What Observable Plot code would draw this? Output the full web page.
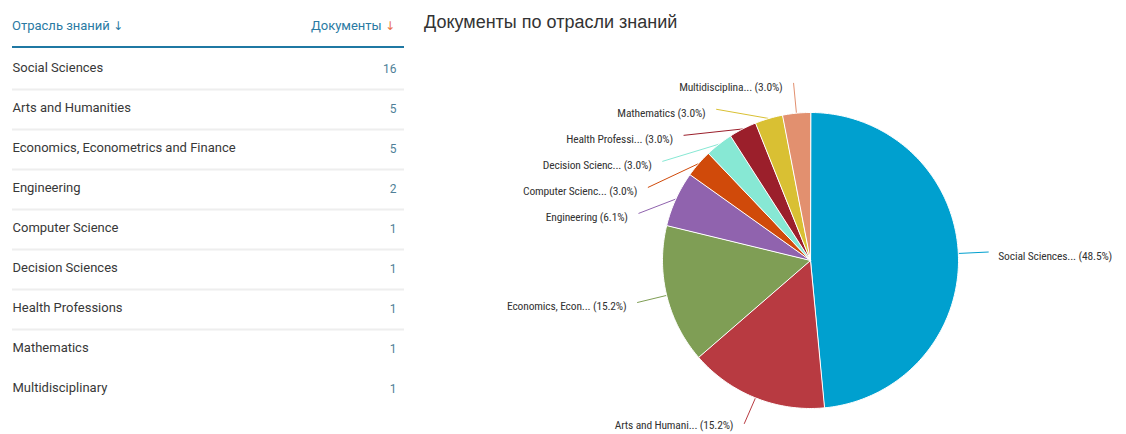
<!DOCTYPE html>
<html><head><meta charset="utf-8">
<script src="https://cdn.jsdelivr.net/npm/d3@7"></script>
<script src="https://cdn.jsdelivr.net/npm/@observablehq/plot@0.6"></script>
<style>
body{margin:0;background:#fff;font-family:Roboto,"Open Sans",sans-serif;}
#wrap{display:flex;width:1126px;height:434px;overflow:hidden;}
#left{width:410px;flex:none;}
#right{width:716px;flex:none;}
.thead{margin-left:12px;width:392px;height:16px;padding-top:18px;padding-bottom:12px;border-bottom:2px solid #1f78a3;display:flex;justify-content:space-between;font-size:13px;line-height:16px;color:#2a7aa3;}
.thead .r{padding-right:9px;}
.thead .arr{font-family:"DejaVu Sans",sans-serif;font-size:12px;}
.thead .r .arr{color:#e9704a;}
.title{height:20px;padding:12px 0 8px 14px;font-family:"Liberation Sans",Arial,sans-serif;font-size:18px;line-height:20px;color:#333;}
#pie text{letter-spacing:-0.15px;}
</style></head>
<body>
<div id="wrap">
  <div id="left">
    <div class="thead"><span>Отрасль знаний <span class="arr">↓</span></span><span class="r">Документы <span class="arr">↓</span></span></div>
    <div id="table"></div>
  </div>
  <div id="right">
    <div class="title">Документы по отрасли знаний</div>
    <div id="pie"></div>
  </div>
</div>
<script>
const categories = ["Social Sciences","Arts and Humanities","Economics, Econometrics and Finance","Engineering","Computer Science","Decision Sciences","Health Professions","Mathematics","Multidisciplinary"];
const documents = [16,5,5,2,1,1,1,1,1];
const pieLabels = ["Social Sciences...","Arts and Humani...","Economics, Econ...","Engineering","Computer Scienc...","Decision Scienc...","Health Professi...","Mathematics","Multidisciplina..."];
const sliceColors = ["#00a0cf","#b83a41","#7f9e55","#9063ae","#d04a0a","#87e8d4","#9b1f2b","#d9c033","#e2906f"];

const rows = categories.map((name, i) => ({name, value: documents[i], i}));

// ---- table ----
const table = Plot.plot({
  width: 410, height: 386,
  marginTop: 1, marginBottom: 25, marginLeft: 12, marginRight: 6,
  x: {axis: null},
  y: {type: "band", domain: categories, padding: 0, axis: null},
  marks: [
    Plot.ruleY(rows.filter(d => d.i < 7), {y: "name", dy: 20, stroke: "#eeeeee", strokeWidth: 2}),
    Plot.text(rows, {y: "name", text: "name", frameAnchor: "left", textAnchor: "start", dy: -1.5, fill: "#383838", fontSize: 13, fontFamily: "Roboto"}),
    Plot.text(rows, {y: "name", text: d => String(d.value), frameAnchor: "right", textAnchor: "end", dx: -8, dy: -0.5, fill: "#4f7f98", fontSize: 12, fontFamily: "Roboto"})
  ]
});
document.getElementById("table").appendChild(table);

// ---- pie ----
const r = 148, R = 178;
const total = d3.sum(documents);
const arcs = d3.pie().sort(null).value(d => d.value)(rows);
const poly = [];
arcs.forEach(a => {
  const n = Math.max(2, Math.ceil((a.endAngle - a.startAngle) * 180 / Math.PI));
  poly.push({name: a.data.name, x: 0, y: 0});
  for (let k = 0; k <= n; k++) {
    const t = a.startAngle + (a.endAngle - a.startAngle) * k / n;
    poly.push({name: a.data.name, x: r * Math.sin(t), y: -r * Math.cos(t)});
  }
});
// labels with simple collision avoidance
const labs = arcs.map(a => {
  const m = (a.startAngle + a.endAngle) / 2;
  return {name: a.data.name, i: a.data.i, m, left: Math.sin(m) < 0,
    ex: r * Math.sin(m), ey: -r * Math.cos(m), ny: -R * Math.cos(m),
    label: pieLabels[a.data.i] + " (" + (a.data.value / total * 100).toFixed(1) + "%)"};
});
for (const side of [true, false]) {
  const s = labs.filter(d => d.left === side).sort((a, b) => a.ny - b.ny);
  let prev = -Infinity;
  for (const d of s) { d.ly = Math.max(d.ny, prev + 26); prev = d.ly; }
}
labs.forEach(d => {
  const yy = Math.max(-R, Math.min(R, d.ly));
  d.lx = (d.left ? -1 : 1) * Math.sqrt(R * R - yy * yy);
  d.tx = d.lx + (d.left ? -11 : 10);
  d.ty = Math.min(d.ly + 4, 165);
});
const conn = labs.flatMap(d => [{name: d.name, x: d.ex, y: d.ey}, {name: d.name, x: d.lx, y: Math.min(d.ly, 163)}]);

const font = "'Liberation Sans Narrow','Roboto Condensed',Roboto";
const pie = Plot.plot({
  width: 716, height: 394, margin: 0,
  x: {domain: [-400, 316], range: [0, 716], axis: null},
  y: {domain: [-220, 174], range: [0, 394], axis: null},
  color: {domain: categories, range: sliceColors},
  marks: [
    Plot.line(conn, {x: "x", y: "y", z: "name", stroke: "name", strokeWidth: 1, curve: "linear"}),
    Plot.line(poly, {x: "x", y: "y", z: "name", fill: "name", stroke: "white", strokeWidth: 1, curve: "linear-closed"}),
    Plot.text(labs.filter(d => d.left), {x: "tx", y: "ty", text: "label", textAnchor: "end", fill: "#333", fontSize: 11.5, fontFamily: font}),
    Plot.text(labs.filter(d => !d.left), {x: "tx", y: "ty", text: "label", textAnchor: "start", fill: "#333", fontSize: 11.5, fontFamily: font})
  ]
});
document.getElementById("pie").appendChild(pie);
</script>
</body></html>
